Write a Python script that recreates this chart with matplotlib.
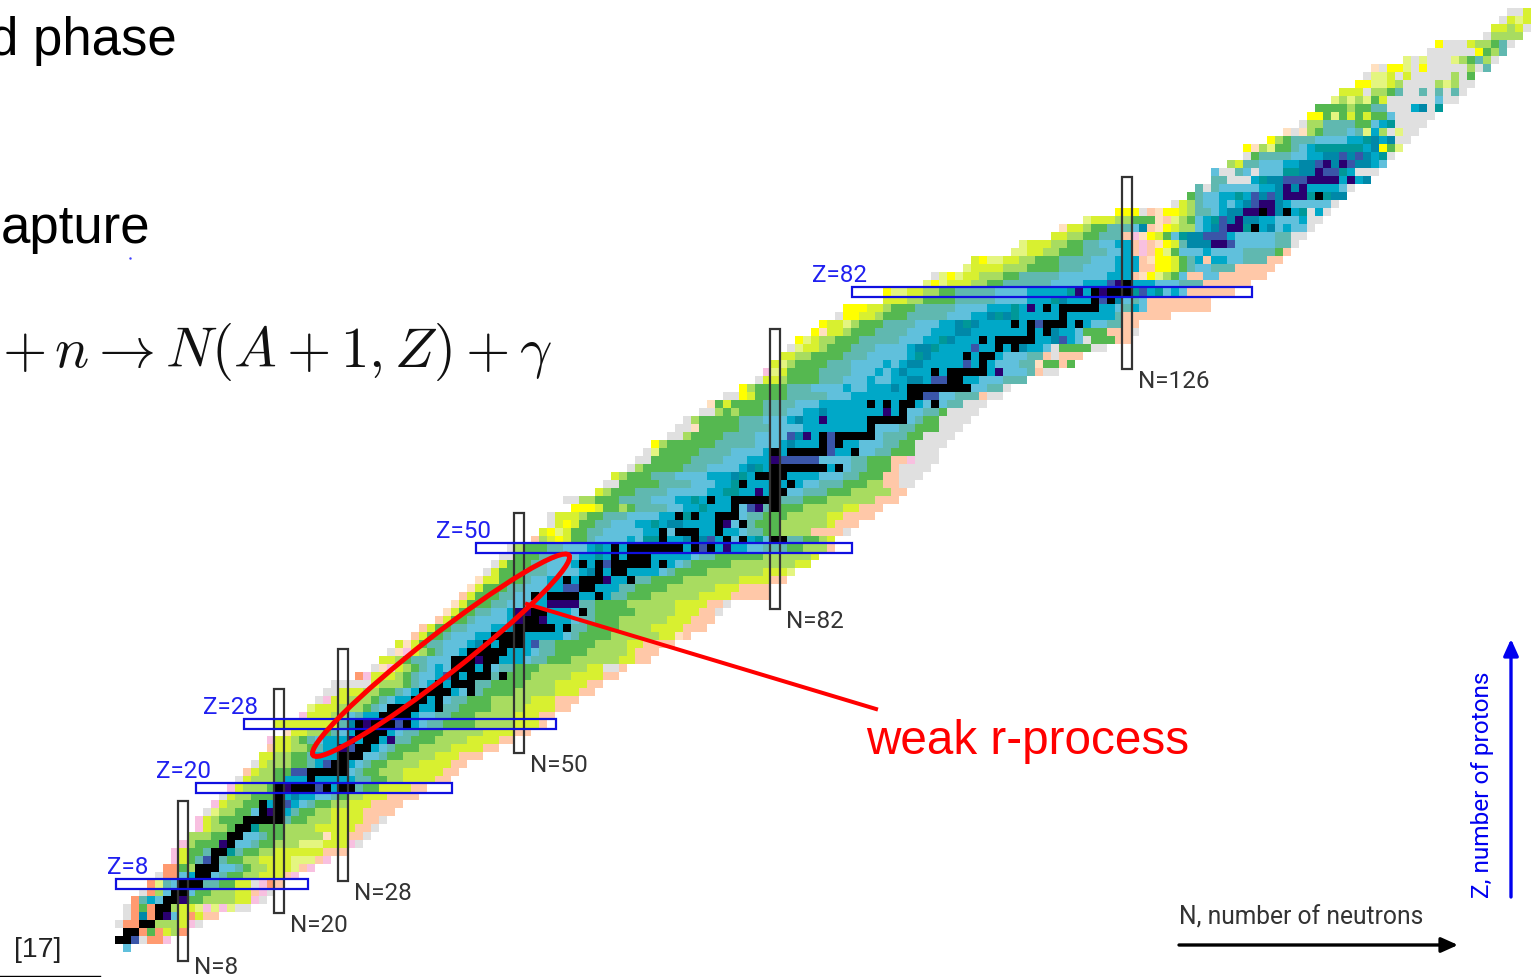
import matplotlib
matplotlib.use("Agg")
import matplotlib.pyplot as plt
import numpy as np
from matplotlib.colors import ListedColormap
from matplotlib.patches import Ellipse, Rectangle

plt.rcParams["mathtext.fontset"] = "cm"

# cell colours of the nuclide chart
CODES = "kdbteclsgaypYormwq"
COLORS = ["#000000", "#2a0070", "#3a55a8", "#0088a8", "#009898", "#00a8c8", "#60c0dc",
          "#60b8b0", "#55b850", "#a8dc60", "#d8f030", "#e4f580", "#ffff00", "#ffc8a8",
          "#ff9a70", "#f8c0e0", "#e0e0e0", "#ffe0c0"]

# first and last occupied N of every row, Z = 0 .. 117
ROW_LEFT = [1, 0, 1, 0, 1, 1, 2, 3, 4, 5, 6, 7, 7, 8, 9, 10, 10, 11, 12, 13,
            14, 15, 16, 17, 18, 19, 19, 21, 20, 23, 24, 25, 26, 27, 30, 32, 33, 34, 35, 37,
            38, 40, 41, 42, 43, 44, 45, 46, 47, 48, 49, 52, 53, 54, 54, 57, 56, 60, 61, 62,
            64, 65, 66, 67, 69, 70, 71, 73, 74, 76, 78, 80, 81, 82, 83, 84, 85, 87, 88, 90,
            91, 96, 96, 101, 102, 106, 107, 112, 113, 117, 118, 121, 125, 132, 134, 135, 137, 137, 139, 141,
            141, 144, 146, 148, 149, 150, 152, 153, 155, 156, 157, 161, 164, 165, 171, 172, 173, 174]
ROW_RIGHT = [1, 6, 8, 10, 12, 16, 18, 19, 20, 22, 24, 26, 28, 30, 31, 32, 33, 34, 35, 37,
             38, 41, 42, 43, 45, 47, 49, 51, 53, 54, 56, 57, 59, 60, 62, 63, 66, 67, 69, 71,
             73, 74, 75, 76, 81, 81, 83, 84, 86, 87, 89, 89, 91, 92, 94, 95, 97, 98, 99, 100,
             101, 102, 102, 103, 104, 105, 106, 107, 108, 110, 111, 113, 117, 119, 120, 123, 126, 127, 127, 131,
             136, 136, 139, 141, 143, 144, 145, 146, 147, 148, 149, 150, 151, 152, 153, 154, 156, 157, 158, 159,
             160, 161, 162, 163, 164, 165, 167, 168, 169, 169, 171, 172, 173, 174, 175, 176, 176, 176]

# colour runs read from the left edge of each row going inward
LEFT_BANDS = ["l", "kkbwrr", "kkrgr", "wrrkkaa", "wrtrkdl", "wrgrkkg", "rsclkkk", "wrall", "rpsl", "wrrlc",
              "rrgag", "mygsb", "myggs", "maggg", "aaagg", "myaagg", "myaggg", "wpaagg", "myaagg", "wyaagggk",
              "myaaag", "wyaaag", "oyaagggb", "wyaaaggs", "yyaaggs", "oyyaags", "myyagsl", "qyyaagsl", "yyyyyyyyst", "myyyaals",
              "pyyyaaagsl", "wmyyaaagsl", "wwyyyaaggslc", "wwwwwyaaagslc", "rmyyyagsllcc", "wqmyagslcl", "yyagsslll", "wqmyagsllc", "yqygsslllct", "oyggslllc",
              "oyggsslllcct", "oyggsllllc", "qyggssllc", "qygggsslllcc", "oygggssll", "qygggsslllcc", "qyygggsllcc", "wygggsssllllct", "wygggsslllc", "wwgggsslllccec",
              "wagggsslllcec", "oayYyggsllllclee", "yYpyggsslllllccelk", "wyYyggsslllccectt", "wyyyaggsssllllcccet", "YYYyggagssssllcce", "wwaagggsssslllcce", "yagggsssslllllccee", "wwgggggsssslllcce", "yagggsssllllcccte",
              "wagggggsssllllcte", "wwgggggsssslllccct", "wpgggggssssllllct", "Yaggggggssssslllct", "wwaggggssssllllct", "wwqgggggssssllllc", "wagggggssslllct", "wwagagggsssllcct", "qgyggggsssslllc", "wwYyggggssssslllc",
              "Yaggggsssllllcllccct", "wyyaggggssslllcllcctt", "mpyggggsssslllclct", "ypaggggsssllllclctt", "yyaaggggssslllllcet", "wpyyagggsssllllctte", "Ypyaagggssssslllccet", "Yqyyagggsssslllccctt", "Yyypagggsssslllcctet", "wYYyyagggssssslllcctete",
              "YYYyyagggsssssllllccce", "yyyaaggggsssssllllcccet", "Yppyyaaggsssssllllccccce", "pYpyyyaaggssssssllllcccc", "wpYpyyaaaggsssssllllll", "pyyyyaaaggggsssllll", "yYppyyaagggsssslll", "ppyyaagggsssll", "pyyyaaggssllcc", "yyaaggssslcc",
              "qyyaggsssl", "pyyyaagggsssl", "YYYwoqYYyasslct", "wyasllclct", "gsllccecbtb", "swslllllcct", "sswwwcett", "lwwslwlllee", "aysslllcc", "wgssssllcc",
              "Yqapggslc", "Yagsssllll", "qwqagssslg", "waassssggg", "YYgpgygyg", "ggggagg", "papapgyss", "yyywaagsww", "YYppyags", "wppywy",
              "qwYYpwYw", "pwpwww", "w", "Yw", "w", "yy", "wypy", "wwy"]

# colour runs read from the right edge of each row going inward
RIGHT_BANDS = ["", "m", "ray", "wmya", "ooyry", "wwpmpmpyya", "wmyyaaaagg", "wmoyyaaagg", "ormwyyggss", "moyyyaaggsl",
               "mopyyyaagsl", "mopppyyyyaaggs", "oooyyyyyyaaggse", "wmyyypppaaaggsll", "wooyyqaaaaaggsll", "wooyyyyyaaaaggget", "wooyyyyaaaggs", "ooooyyyyaaggsc", "ooooyyyaaggslc", "ooooyyyaagsllcct",
               "ooyyyyggss", "ooyyyyaaggssc", "ooyyyyyaaaggsll", "ooyyyyaaaaggsl", "oooyyyaaaaggsll", "ooyyyyaaaagggsl", "ooyyyyaaaagggssl", "ooyyyyaaaaagggssl", "oyyyaaaaaggggssl", "ooyyyaaaaagggssll",
               "ooyyyyaaaaggggssl", "oooyyyaaaaagggssl", "ooyyyaaaaaggggssl", "ooyyyyaaaaggggsssl", "ooyyyyaaaaaggggssl", "owwyyaaaaaagggssl", "ooyyaaaaaagggssl", "oooyaaaaaggggssl", "ooooyyaaaagggggssl", "oqyyaaaaaaggggsl",
               "oooyyyyaaaaggggssl", "oooyyyaaaaaagggssl", "wooyyyaaaaagggggssl", "wooyyyyaaaaaaggggssl", "oooooyyyyaaaaaagggss", "ooooyyyaaaaaaggggss", "ooyyyyaaaaaaaggggss", "pyyyaaaaaaaggggsl", "yyaaaaaaaagggggsl", "yaaaaaaggggggssl",
               "oaaaggsssllcc", "yaggsskklecklkcbtktcc", "wooooaaaaggsslcct", "oooyaaaaaagggsslc", "ooooyyaaaaagggssllc", "oooyyaaaaaggggsssllc", "oooaaaaaagggsssllc", "ooaaaaagggsssllcc", "wwooaagggsssllc", "wwwoogggsslllc",
               "wwwwogggssllcc", "wwwmoogggssllll", "wwwgggssllc", "wwwwggsslllc", "wwwwggsssllc", "wwwgggsslll", "wwwwggsllc", "wwwwgsslllc", "wwwsslllc", "wwosssllc",
               "wssllllcc", "ssslllcc", "wwoslllcc", "goggqsslllc", "ooowosslllcc", "wwggggwlcct", "oogggwlcct", "woooggglcct", "oossllcc", "oooooosc",
               "oooooooolcsl", "oooooooolslt", "oooooolclecbe", "oooooossslllccc", "oooooolloolgapYqo", "ooooosssllsgyYYoo", "oosssllccocsgyYYqo", "ogssssllllclllgpYomo", "wsslllllbcdtttsyYqomo", "wwsslllllcebbttelgyYqmo",
               "wllcltckeddbtclaayYqo", "wwclllccttdtteclgapoq", "wcwectt", "wlllllctt", "tteke", "wlcccc", "tcdc", "wwwce", "lcttb", "wectbt",
               "pgYtce", "wwtcte", "wwpwacps", "wwwwecl", "wwwwwlg", "ewtcwwws", "wwlwwwwww", "wswswsww", "wwapawwww", "gwawww",
               "swaw", "wasgap", "sagYw", "wsgaay", "a", "wyay", "", ""]

# fill between the two runs
ROW_CORE = ("lrrrrrrlllllllllllcc" "cccccccccccccccccccc" "cccccccccccccccccccc" "cccccccccccccccccccc"
            "cccccccccctttttttttt" "ecsggswwwwwwwwayyy")

# stable nuclei and the neighbouring long lived cells, {Z: [N, ...]}
BLACK = {1: [0, 1], 2: [1, 2], 3: [3, 4], 4: [5], 5: [5, 6], 6: [6, 7], 7: [7, 8], 8: [8, 9, 10],
         9: [10, 11], 10: [10, 11, 12], 11: [12], 12: [12, 13], 13: [14], 14: [14, 15], 15: [15, 16],
         16: [16, 17, 18, 19, 20], 17: [18, 20], 18: [18, 20], 19: [20], 20: [20, 22, 23, 24, 26, 28, 29],
         21: [24], 22: [24, 25, 26, 27, 28], 23: [27, 28], 24: [28, 29, 30], 25: [30, 31], 26: [31, 32],
         27: [30, 31, 32, 33], 28: [30, 32, 33, 34, 36], 29: [33, 34, 35, 36], 30: [34, 35, 36, 37, 40],
         31: [37, 38, 40], 32: [38, 39, 40, 41, 44], 33: [40, 42, 43, 44], 34: [42, 44, 45, 46, 48],
         35: [42, 43, 44, 46], 36: [42, 43, 44, 46, 47], 37: [44, 45, 46, 47, 48], 38: [46, 48, 49, 50],
         39: [47, 48, 49, 50], 40: [50, 51, 52, 53, 54, 56], 41: [51, 52], 42: [52, 53, 58],
         44: [52, 54, 55, 56, 57, 60], 45: [58, 59], 46: [56, 58, 59, 60, 64], 47: [60, 62, 63],
         48: [58, 60, 62, 63, 64, 65, 66, 68], 49: [62, 64, 65, 66], 50: [62, 64, 65, 66, 67, 68, 69, 70, 72, 74],
         51: [68, 76, 78, 82, 83], 52: [68, 70, 71, 72, 75], 53: [75, 78], 54: [70, 72, 75, 76, 77],
         55: [77, 82], 56: [74, 77, 78, 79, 80, 81, 82], 57: [82, 83], 58: [78, 82, 84],
         59: [80, 81, 82, 83], 60: [82, 83, 84, 85, 86, 87, 88, 90], 62: [82, 84, 85, 86, 87, 88, 92],
         63: [88, 90], 64: [88, 90, 91, 92, 93, 94], 65: [94], 66: [94, 95, 96, 97, 98], 67: [98],
         68: [94, 96, 98, 99, 102], 69: [99, 100], 70: [99, 100, 101, 102, 103, 104, 105, 106], 71: [104, 105],
         72: [102, 104, 105, 106, 107, 108], 73: [108], 74: [106, 108, 109], 75: [110, 112],
         76: [108, 110, 111, 112, 113, 114], 77: [114, 116], 78: [112, 114, 116, 117, 118, 120], 79: [118],
         80: [116, 118, 119, 120, 121, 122], 81: [122, 124], 82: [122, 124, 125, 126], 83: [126],
         90: [142], 92: [143, 146], 94: [150]}
DARK = {4: [6], 6: [8], 13: [13], 17: [19], 20: [21], 25: [28], 26: [29, 34], 28: [31], 36: [45],
        41: [50, 53], 42: [50, 51], 43: [54, 55, 56, 57], 46: [61], 50: [76], 53: [76], 55: [80], 57: [80],
        61: [82], 64: [86], 66: [88], 67: [96], 72: [110], 80: [114], 82: [120, 123], 83: [125], 88: [138],
        90: [139, 140], 91: [140], 92: [141, 142, 144], 93: [143, 144], 94: [146, 147, 148], 95: [146, 148],
        96: [149, 150, 151, 152, 154], 97: [150], 98: [151, 153]}
BLUE = {1: [2], 11: [11], 18: [21], 20: [25], 22: [22], 23: [26], 25: [29], 28: [35], 34: [41], 38: [52],
        45: [56, 57], 48: [61], 50: [73], 55: [79], 61: [83, 84, 85, 86, 87], 62: [89], 63: [89], 64: [84, 89],
        69: [101, 102], 71: [102, 103], 73: [106], 75: [107], 76: [118], 78: [115], 81: [123], 83: [124],
        89: [138], 90: [138], 91: [138], 93: [142], 94: [142], 96: [146, 147, 148], 97: [151, 152],
        98: [150, 154], 99: [153, 155]}

# magic numbers: value and the span of the other axis
MAGIC_N = [8, 20, 28, 50, 82, 126]
MAGIC_N_FROM = [-1.6, 4.4, 8.4, 24.4, 42.4, 72.4]
MAGIC_N_TO = [18.4, 32.4, 37.4, 54.4, 77.4, 96.4]
MAGIC_Z = [8, 20, 28, 50, 82]
MAGIC_Z_FROM = [-0.4, 9.6, 15.6, 44.6, 91.6]
MAGIC_Z_TO = [23.6, 41.6, 54.6, 91.6, 141.6]

# page positions in pixels
Z_LABEL_X = [148, 211, 258, 491, 867]
Z_LABEL_Y = [868, 772, 708, 532, 275]
N_LABEL_X = [194, 290, 354, 530, 786, 1138]
N_LABEL_Y = [967, 925, 893, 765, 621, 381]

W, H = 1534, 978
fig = plt.figure(figsize=(W / 100, H / 100), dpi=100)
ax = fig.add_axes([0, 0, 1, 1])
ax.set_xlim(-119 / 8, (W - 119) / 8)
ax.set_ylim((949 - H) / 8, 949 / 8)
ax.axis("off")

# build the grid from the row tables
grid = np.full((118, 178), -1)
for z in range(118):
    left, right = ROW_LEFT[z], ROW_RIGHT[z]
    grid[z, left:right + 1] = CODES.index(ROW_CORE[z])
    for i, ch in enumerate(LEFT_BANDS[z]):
        if left + i <= right:
            grid[z, left + i] = CODES.index(ch)
    for i, ch in enumerate(RIGHT_BANDS[z]):
        if right - i >= left:
            grid[z, right - i] = CODES.index(ch)
for cells, ch in [(BLUE, "b"), (DARK, "d"), (BLACK, "k")]:
    for z, ns in cells.items():
        grid[z, ns] = CODES.index(ch)

ax.pcolormesh(np.arange(179) - 0.5, np.arange(119) - 0.5, np.ma.masked_less(grid, 0),
              cmap=ListedColormap(COLORS), vmin=0, vmax=len(COLORS) - 1, antialiased=False)

# magic number boxes
for n, a, b in zip(MAGIC_N, MAGIC_N_FROM, MAGIC_N_TO):
    ax.add_patch(Rectangle((n - 0.6, a), 1.2, b - a, fill=False, ec="#333333", lw=1.6))
for z, a, b in zip(MAGIC_Z, MAGIC_Z_FROM, MAGIC_Z_TO):
    ax.add_patch(Rectangle((a, z - 0.6), b - a, 1.2, fill=False, ec="#1010e0", lw=1.6))

# weak r-process marker
ax.add_patch(Ellipse((40.25, 36.6), 40.6, 5.0, angle=38, fill=False, ec="#ff0000", lw=3.6))

# everything else is placed in page pixels
page = fig.add_axes([0, 0, 1, 1])
page.set_xlim(0, W)
page.set_ylim(H, 0)
page.axis("off")
page.patch.set_alpha(0)

page.plot([527, 876], [605, 710], color="#ff0000", lw=2.9)
page.plot([0, 100], [977, 977], color="black", lw=1)
page.plot([130], [259], ".", color="#4040ff", ms=1.5)

arial = "Liberation Sans"
page.text(177, 55, "d phase", fontsize=38, family=arial, ha="right", va="baseline", color="black")
page.text(150, 243, "apture", fontsize=38, family=arial, ha="right", va="baseline", color="black")
page.text(553, 367, r"$+\,n\rightarrow N(A+1,Z)+\gamma$", fontsize=41, ha="right", va="baseline", color="#111111")
page.text(866, 754, "weak r-process", fontsize=34.3, family=arial, va="baseline", color="#ff0000")
page.text(14, 957, "[17]", fontsize=20.5, family=arial, va="baseline", color="#222222")

for z, x, y in zip(MAGIC_Z, Z_LABEL_X, Z_LABEL_Y):
    page.text(x, y, f"Z={z}", fontsize=17.5, family="Roboto", ha="right", va="center", color="#2020f0")
for n, x, y in zip(MAGIC_N, N_LABEL_X, N_LABEL_Y):
    page.text(x, y, f"N={n}", fontsize=17.5, family="Roboto", ha="left", va="center", color="#333333")

page.text(1179, 917, "N, number of neutrons", fontsize=17.7, family="Roboto", va="center", color="#333333")
page.text(1482, 898, "Z, number of protons", fontsize=17.6, family="Roboto", rotation=90, ha="center", va="bottom",
          color="#0000f0")
page.annotate("", xy=(1458, 946), xytext=(1179, 946),
              arrowprops=dict(arrowstyle="-|>,head_length=1.0,head_width=0.45", color="black", lw=2.4, shrinkA=0, shrinkB=0))
page.annotate("", xy=(1511, 640), xytext=(1511, 898),
              arrowprops=dict(arrowstyle="-|>,head_length=1.0,head_width=0.45", color="#0000f0", lw=2.4, shrinkA=0, shrinkB=0))

fig.savefig("out.png", dpi=100)
